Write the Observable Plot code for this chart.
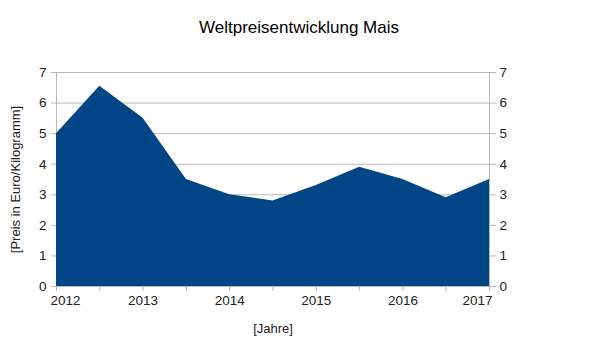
<!DOCTYPE html>
<html>
<head>
<meta charset="utf-8">
<script src="https://cdn.jsdelivr.net/npm/d3@7"></script>
<script src="https://cdn.jsdelivr.net/npm/@observablehq/plot@0.6"></script>
<style>
  html, body { margin: 0; padding: 0; background: #fff; }
  svg { display: block; }
</style>
</head>
<body>
<div id="chart"></div>
<script>
const years = [2012, 2012.5, 2013, 2013.5, 2014, 2014.5, 2015, 2015.5, 2016, 2016.5, 2017];
const prices = [5.0, 6.55, 5.5, 3.5, 3.0, 2.8, 3.3, 3.9, 3.5, 2.9, 3.5];
const yTicks = [0, 1, 2, 3, 4, 5, 6, 7];
const xTickMarks = [2012, 2012.5, 2013, 2013.5, 2014, 2014.5, 2015, 2015.5, 2016, 2016.5, 2017];
const xLabelsMid = [2013, 2014, 2015, 2016];
const xLabelFirst = [2012];
const xLabelLast = [2017];
const title = "Weltpreisentwicklung Mais";
const yTitle = "[Preis in Euro/Kilogramm]";
const xTitle = "[Jahre]";

const data = years.map((x, i) => ({year: x, price: prices[i]}));
const grey = "#b8b8b8";
const txt = "#222";
const fs = 13.5;

const chart = Plot.plot({
  width: 600,
  height: 357,
  marginLeft: 56,
  marginRight: 111,
  marginTop: 72,
  marginBottom: 71,
  style: {fontFamily: "Liberation Sans, Arial, sans-serif", fontSize: "13px", color: txt, background: "#fff"},
  x: {domain: [2012, 2017]},
  y: {domain: [0, 7]},
  marks: [
    Plot.gridY(yTicks, {stroke: grey, strokeOpacity: 1}),
    Plot.ruleX([2012, 2017], {stroke: grey, strokeOpacity: 1}),
    Plot.areaY(data, {x: "year", y: "price", fill: "#004586", curve: "linear"}),
    Plot.axisY({anchor: "left", ticks: yTicks, tickSize: 5, tickPadding: 5, stroke: grey, label: null, tickFormat: d => d, fill: txt, fontSize: fs}),
    Plot.axisY({anchor: "right", ticks: yTicks, tickSize: 6, tickPadding: 4, stroke: grey, label: null, tickFormat: d => d, fill: txt, fontSize: fs}),
    Plot.axisX({ticks: xTickMarks, tickSize: 5, tickFormat: () => "", stroke: grey, label: null}),
    Plot.axisX({ticks: xLabelsMid, tickSize: 0, tickPadding: 9, tickFormat: d => String(d), label: null, fill: txt, fontSize: fs}),
    Plot.axisX({ticks: xLabelFirst, tickSize: 0, tickPadding: 9, tickFormat: d => String(d), label: null, textAnchor: "start", dx: -6, fill: txt, fontSize: fs}),
    Plot.axisX({ticks: xLabelLast, tickSize: 0, tickPadding: 9, tickFormat: d => String(d), label: null, textAnchor: "end", dx: 3, fill: txt, fontSize: fs}),
    Plot.text([xTitle], {frameAnchor: "bottom", dy: 42, lineAnchor: "middle", fill: txt, fontSize: 13}),
    Plot.text([yTitle], {frameAnchor: "left", textAnchor: "middle", dx: -41, rotate: -90, lineAnchor: "middle", fill: txt, fontSize: 13}),
    Plot.text([title], {frameAnchor: "top", dx: 26, dy: -45, lineAnchor: "middle", fill: "#000", fontSize: 17})
  ]
});
document.getElementById("chart").appendChild(chart);
</script>
</body>
</html>
